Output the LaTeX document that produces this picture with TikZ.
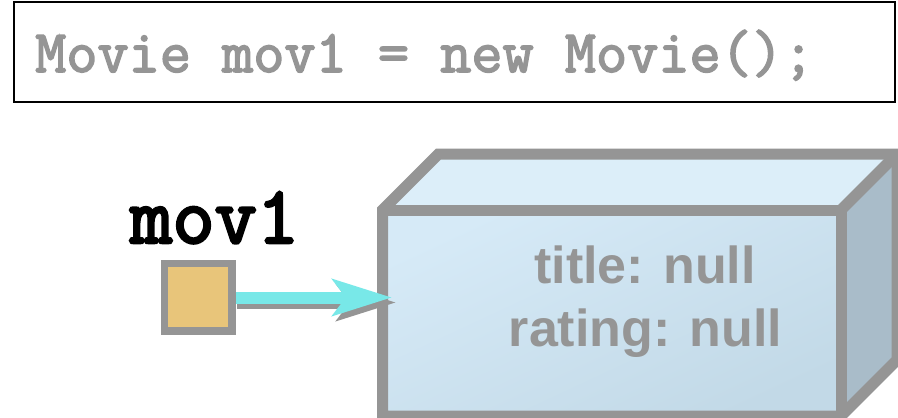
\documentclass[tikz,border=0pt]{standalone}
\usepackage{fontspec}
\setmainfont{Liberation Sans}
\newfontfamily\codefont{Latin Modern Mono}[FakeBold=2.6]
\newfontfamily\varfont{Latin Modern Mono}[FakeBold=3.2]
\usetikzlibrary{arrows.meta}
\definecolor{edgegray}{HTML}{959595}
\definecolor{slotfill}{HTML}{E8C57A}
\definecolor{refcyan}{HTML}{78E8E8}
\definecolor{faceTop}{HTML}{DCEEF9}
\definecolor{faceFrontA}{HTML}{D6EAF7}
\definecolor{faceFrontB}{HTML}{C2D9E7}
\definecolor{faceSide}{HTML}{A9BCC9}
\tikzset{
  codebox/.style={draw=black, line width=2.5pt, minimum width=881pt, minimum height=100pt, inner sep=0pt},
  codetext/.style={font=\codefont\bfseries\fontsize{60.5}{60.5}\selectfont, text=edgegray, inner sep=0pt},
  varname/.style={font=\varfont\bfseries\fontsize{82}{82}\selectfont, text=black, inner sep=0pt},
  slot/.style={draw=edgegray, fill=slotfill, line width=5pt, minimum size=65pt, inner sep=0pt},
  fieldtext/.style={font=\bfseries\fontsize{52}{52}\selectfont, text=edgegray, inner sep=0pt},
  boxedge/.style={draw=edgegray, line width=11pt, line join=miter},
  refarrow/.style={line width=12pt, -{Stealth[length=59pt, width=36pt, inset=13pt]}},
}
\begin{document}
\begin{tikzpicture}[x=1pt, y=-1pt]
\useasboundingbox (0,0) rectangle (898,418);
\fill[white] (0,0) rectangle (898,418);

% statement
\node[codebox] (code) at (454.5,52) {};
\node[codetext, anchor=base west] (stmt) at (35,72) {Movie mov1 = new Movie();};

% the object as a 3D block
\coordinate (ftl) at (382.5,210);
\coordinate (ftr) at (841,210);
\coordinate (fbr) at (841,416);
\coordinate (fbl) at (382.5,416);
\coordinate (btl) at (438.5,154);
\coordinate (btr) at (897,154);
\coordinate (bbr) at (897,360);
\fill[faceTop] (ftl) -- (btl) -- (btr) -- (ftr) -- cycle;
\fill[faceSide] (ftr) -- (btr) -- (bbr) -- (fbr) -- cycle;
\shade[shading=axis, top color=faceFrontA, bottom color=faceFrontB, shading angle=25]
  (ftl) rectangle (fbr);
\draw[boxedge] (fbl) -- (ftl) -- (btl) -- (btr) -- (bbr) -- (fbr) -- cycle;
\draw[boxedge] (ftl) -- (ftr) -- (fbr);
\draw[boxedge] (ftr) -- (btr);
\node[fieldtext, anchor=base] (ftitle) at (645,283) {title: null};
\node[fieldtext, anchor=base] (frating) at (645.5,346) {rating: null};
\coordinate (target) at (392,297.5);

% the reference variable
\node[varname, anchor=base west] (vname) at (130,243) {mov1};
\node[slot] (var) at (198,297) {};

% reference arrow with its shadow
\draw[refarrow, edgegray, transform canvas={shift={(4pt,-5pt)}}] (var.east) ++(0,0.5) -- (target);
\draw[refarrow, refcyan] (var.east) ++(0,0.5) -- (target);
\draw[draw=edgegray, line width=5pt] (var.north west) rectangle (var.south east);
\end{tikzpicture}
\end{document}
